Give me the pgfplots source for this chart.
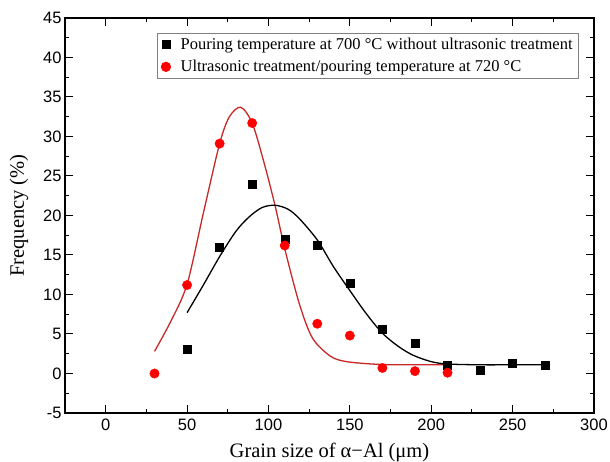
\documentclass[border=0pt]{standalone}
\usepackage{pgfplots}
\pgfplotsset{compat=1.18}
\usepackage{fontspec}
\setmainfont{Liberation Serif}
\newfontfamily\tickfont{Liberation Sans}
\definecolor{fitred}{RGB}{200,40,40}
\definecolor{ptred}{RGB}{255,0,0}

\begin{document}
\begin{tikzpicture}
\begin{axis}[
    scale only axis,
    width=529pt,
    height=395pt,
    xmin=-25, xmax=300,
    ymin=-5, ymax=45,
    xtick={0,50,...,300},
    ytick={-5,0,...,45},
    minor x tick num=1,
    minor y tick num=1,
    tick align=inside,
    major tick length=8pt,
    minor tick length=4pt,
    every tick/.style={black, line width=1pt},
    axis line style={line width=1.2pt},
    /pgf/number format/assume math mode=true,
    tick label style={font=\fontsize{16.5}{18}\selectfont\tickfont},
    xticklabel style={yshift=-2pt},
    xlabel={Grain size of α−Al (μm)},
    ylabel={Frequency (\%)},
    label style={font=\fontsize{20.5}{22}\selectfont},
    xlabel style={yshift=-6pt},
    ylabel shift=8pt,
    legend style={
        at={(rel axis cs:1,1)}, anchor=north east,
        xshift=-15pt, yshift=-15pt,
        draw=gray, line width=0.8pt,
        font=\fontsize{16.5}{18}\selectfont,
        row sep=5pt, inner xsep=4pt, inner ysep=3pt,
        /tikz/every odd column/.append style={column sep=8pt}
    },
    legend cell align=left,
]

% fitted curves
\addplot[fitred, line width=1.3pt, smooth, forget plot] table {
x   y
30  2.8
40  6.6
50  11.3
60  20.3
70  29.1
76  32.5
83  33.7
90  31.7
97  26.9
104 21.3
110 15.8
119 8.8
127 4.5
138 2.2
148 1.5
168 1.15
190 1.1
210 1.1
};

\addplot[black, line width=1.3pt, smooth, forget plot] table {
x   y
50  7.7
60  11.2
70  14.8
80  18.0
88  19.8
96  21.0
104 21.3
112 20.8
119 19.6
130 16.9
140 13.5
150 10.5
160 7.6
170 5.1
180 3.4
189 2.3
200 1.5
210 1.2
230 1.1
250 1.1
270 1.1
};

% measured frequencies
\addplot[only marks, mark=square*, mark size=4pt, black] table {
x   y
50  3.1
70  16.0
90  23.9
110 17.0
130 16.3
150 11.4
170 5.6
190 3.8
210 1.0
230 0.4
250 1.3
270 1.0
};

\addplot[only marks, mark=*, mark size=4.7pt, ptred] table {
x   y
30  0.0
50  11.2
70  29.1
90  31.7
110 16.2
130 6.3
150 4.8
170 0.7
190 0.3
210 0.1
};

\legend{Pouring temperature at 700 °C without ultrasonic treatment,
        Ultrasonic treatment/pouring temperature at 720 °C}
\end{axis}
\pgfresetboundingbox
\path (current axis.south west) +(-65pt,-49pt)
      (current axis.north east) +(16pt,18pt);
\end{tikzpicture}
\end{document}
